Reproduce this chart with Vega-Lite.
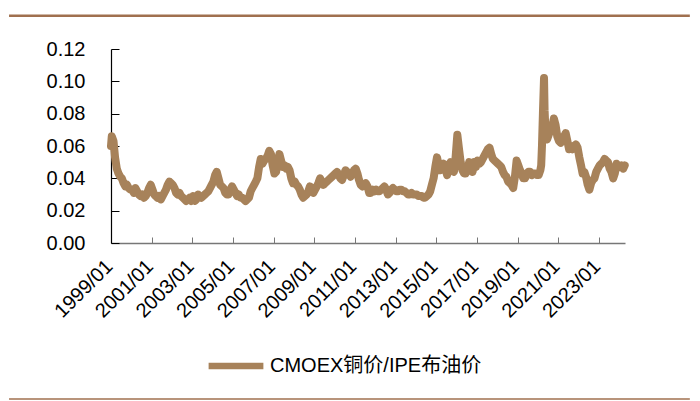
{
 "$schema": "https://vega.github.io/schema/vega-lite/v6.json",
 "width": 514,
 "height": 194,
 "autosize": "none",
 "padding": {"left": 111, "top": 49, "right": 75, "bottom": 158},
 "background": "white",
 "config": {"view": {"stroke": null}, "font": "Liberation Sans", "axis": {"grid": false}, "axisY": {"labelOverlap": false, "tickCount": 7}},
 "datasets": {
  "ratio": [
   {"d":"1999-01-01","v":0.060},{"d":"1999-01-15","v":0.066},{"d":"1999-02-15","v":0.063},{"d":"1999-03-15","v":0.053},{"d":"1999-04-15","v":0.046},{"d":"1999-05-15","v":0.043},{"d":"1999-06-15","v":0.041},{"d":"1999-07-15","v":0.040},{"d":"1999-08-15","v":0.037},{"d":"1999-09-15","v":0.035},{"d":"1999-10-15","v":0.036},{"d":"1999-11-15","v":0.034},{"d":"1999-12-15","v":0.033},
   {"d":"2000-01-15","v":0.033},{"d":"2000-02-15","v":0.031},{"d":"2000-03-15","v":0.034},{"d":"2000-04-15","v":0.032},{"d":"2000-05-15","v":0.030},{"d":"2000-06-15","v":0.029},{"d":"2000-07-15","v":0.030},{"d":"2000-08-15","v":0.028},{"d":"2000-09-15","v":0.029},{"d":"2000-10-15","v":0.031},{"d":"2000-11-15","v":0.034},{"d":"2000-12-15","v":0.036},
   {"d":"2001-01-15","v":0.033},{"d":"2001-02-15","v":0.030},{"d":"2001-03-15","v":0.029},{"d":"2001-04-15","v":0.028},{"d":"2001-05-15","v":0.029},{"d":"2001-06-15","v":0.027},{"d":"2001-07-15","v":0.029},{"d":"2001-08-15","v":0.031},{"d":"2001-09-15","v":0.033},{"d":"2001-10-15","v":0.036},{"d":"2001-11-15","v":0.038},{"d":"2001-12-15","v":0.037},
   {"d":"2002-01-15","v":0.036},{"d":"2002-02-15","v":0.034},{"d":"2002-03-15","v":0.031},{"d":"2002-04-15","v":0.030},{"d":"2002-05-15","v":0.031},{"d":"2002-06-15","v":0.029},{"d":"2002-07-15","v":0.028},{"d":"2002-08-15","v":0.027},{"d":"2002-09-15","v":0.026},{"d":"2002-10-15","v":0.027},{"d":"2002-11-15","v":0.028},{"d":"2002-12-15","v":0.026},
   {"d":"2003-01-15","v":0.029},{"d":"2003-02-15","v":0.026},{"d":"2003-03-15","v":0.027},{"d":"2003-04-15","v":0.030},{"d":"2003-05-15","v":0.029},{"d":"2003-06-15","v":0.028},{"d":"2003-07-15","v":0.029},{"d":"2003-08-15","v":0.030},{"d":"2003-09-15","v":0.031},{"d":"2003-10-15","v":0.032},{"d":"2003-11-15","v":0.034},{"d":"2003-12-15","v":0.036},
   {"d":"2004-01-15","v":0.038},{"d":"2004-02-15","v":0.042},{"d":"2004-03-15","v":0.044},{"d":"2004-04-15","v":0.040},{"d":"2004-05-15","v":0.036},{"d":"2004-06-15","v":0.035},{"d":"2004-07-15","v":0.034},{"d":"2004-08-15","v":0.031},{"d":"2004-09-15","v":0.030},{"d":"2004-10-15","v":0.030},{"d":"2004-11-15","v":0.033},{"d":"2004-12-15","v":0.035},
   {"d":"2005-01-15","v":0.033},{"d":"2005-02-15","v":0.031},{"d":"2005-03-15","v":0.029},{"d":"2005-04-15","v":0.030},{"d":"2005-05-15","v":0.028},{"d":"2005-06-15","v":0.028},{"d":"2005-07-15","v":0.027},{"d":"2005-08-15","v":0.026},{"d":"2005-09-15","v":0.027},{"d":"2005-10-15","v":0.028},{"d":"2005-11-15","v":0.032},{"d":"2005-12-15","v":0.034},
   {"d":"2006-01-15","v":0.036},{"d":"2006-02-15","v":0.038},{"d":"2006-03-15","v":0.040},{"d":"2006-04-15","v":0.047},{"d":"2006-05-15","v":0.052},{"d":"2006-06-15","v":0.049},{"d":"2006-07-15","v":0.051},{"d":"2006-08-15","v":0.052},{"d":"2006-09-15","v":0.054},{"d":"2006-10-15","v":0.057},{"d":"2006-11-15","v":0.055},{"d":"2006-12-15","v":0.048},
   {"d":"2007-01-15","v":0.043},{"d":"2007-02-15","v":0.044},{"d":"2007-03-15","v":0.050},{"d":"2007-04-15","v":0.055},{"d":"2007-05-15","v":0.051},{"d":"2007-06-15","v":0.047},{"d":"2007-07-15","v":0.048},{"d":"2007-08-15","v":0.046},{"d":"2007-09-15","v":0.047},{"d":"2007-10-15","v":0.045},{"d":"2007-11-15","v":0.040},{"d":"2007-12-15","v":0.037},
   {"d":"2008-01-15","v":0.038},{"d":"2008-02-15","v":0.036},{"d":"2008-03-15","v":0.035},{"d":"2008-04-15","v":0.033},{"d":"2008-05-15","v":0.030},{"d":"2008-06-15","v":0.028},{"d":"2008-07-15","v":0.029},{"d":"2008-08-15","v":0.030},{"d":"2008-09-15","v":0.032},{"d":"2008-10-15","v":0.035},{"d":"2008-11-15","v":0.034},{"d":"2008-12-15","v":0.031},
   {"d":"2009-01-15","v":0.033},{"d":"2009-02-15","v":0.035},{"d":"2009-03-15","v":0.037},{"d":"2009-04-15","v":0.040},{"d":"2009-05-15","v":0.038},{"d":"2009-06-15","v":0.036},{"d":"2009-07-15","v":0.037},{"d":"2009-08-15","v":0.038},{"d":"2009-09-15","v":0.039},{"d":"2009-10-15","v":0.040},{"d":"2009-11-15","v":0.041},{"d":"2009-12-15","v":0.042},
   {"d":"2010-01-15","v":0.043},{"d":"2010-02-15","v":0.044},{"d":"2010-03-15","v":0.042},{"d":"2010-04-15","v":0.040},{"d":"2010-05-15","v":0.039},{"d":"2010-06-15","v":0.042},{"d":"2010-07-15","v":0.045},{"d":"2010-08-15","v":0.044},{"d":"2010-09-15","v":0.043},{"d":"2010-10-15","v":0.041},{"d":"2010-11-15","v":0.043},{"d":"2010-12-15","v":0.045},
   {"d":"2011-01-15","v":0.046},{"d":"2011-02-15","v":0.043},{"d":"2011-03-15","v":0.039},{"d":"2011-04-15","v":0.036},{"d":"2011-05-15","v":0.035},{"d":"2011-06-15","v":0.036},{"d":"2011-07-15","v":0.037},{"d":"2011-08-15","v":0.035},{"d":"2011-09-15","v":0.031},{"d":"2011-10-15","v":0.031},{"d":"2011-11-15","v":0.033},{"d":"2011-12-15","v":0.032},
   {"d":"2012-01-15","v":0.033},{"d":"2012-02-15","v":0.032},{"d":"2012-03-15","v":0.032},{"d":"2012-04-15","v":0.033},{"d":"2012-05-15","v":0.034},{"d":"2012-06-15","v":0.035},{"d":"2012-07-15","v":0.033},{"d":"2012-08-15","v":0.030},{"d":"2012-09-15","v":0.031},{"d":"2012-10-15","v":0.033},{"d":"2012-11-15","v":0.034},{"d":"2012-12-15","v":0.033},
   {"d":"2013-01-15","v":0.032},{"d":"2013-02-15","v":0.032},{"d":"2013-03-15","v":0.033},{"d":"2013-04-15","v":0.033},{"d":"2013-05-15","v":0.032},{"d":"2013-06-15","v":0.032},{"d":"2013-07-15","v":0.031},{"d":"2013-08-15","v":0.030},{"d":"2013-09-15","v":0.030},{"d":"2013-10-15","v":0.031},{"d":"2013-11-15","v":0.030},{"d":"2013-12-15","v":0.030},
   {"d":"2014-01-15","v":0.030},{"d":"2014-02-15","v":0.029},{"d":"2014-03-15","v":0.029},{"d":"2014-04-15","v":0.029},{"d":"2014-05-15","v":0.028},{"d":"2014-06-15","v":0.028},{"d":"2014-07-15","v":0.029},{"d":"2014-08-15","v":0.030},{"d":"2014-09-15","v":0.032},{"d":"2014-10-15","v":0.036},{"d":"2014-11-15","v":0.040},{"d":"2014-12-15","v":0.047},
   {"d":"2015-01-15","v":0.053},{"d":"2015-02-15","v":0.048},{"d":"2015-03-15","v":0.045},{"d":"2015-04-15","v":0.047},{"d":"2015-05-15","v":0.049},{"d":"2015-06-15","v":0.046},{"d":"2015-07-15","v":0.042},{"d":"2015-08-15","v":0.047},{"d":"2015-09-15","v":0.050},{"d":"2015-10-15","v":0.047},{"d":"2015-11-15","v":0.044},{"d":"2015-12-15","v":0.053},
   {"d":"2016-01-15","v":0.067},{"d":"2016-02-15","v":0.058},{"d":"2016-03-15","v":0.050},{"d":"2016-04-15","v":0.045},{"d":"2016-05-15","v":0.043},{"d":"2016-06-15","v":0.043},{"d":"2016-07-15","v":0.046},{"d":"2016-08-15","v":0.050},{"d":"2016-09-15","v":0.048},{"d":"2016-10-15","v":0.044},{"d":"2016-11-15","v":0.050},{"d":"2016-12-15","v":0.047},
   {"d":"2017-01-15","v":0.051},{"d":"2017-02-15","v":0.049},{"d":"2017-03-15","v":0.050},{"d":"2017-04-15","v":0.052},{"d":"2017-05-15","v":0.054},{"d":"2017-06-15","v":0.056},{"d":"2017-07-15","v":0.058},{"d":"2017-08-15","v":0.059},{"d":"2017-09-15","v":0.055},{"d":"2017-10-15","v":0.052},{"d":"2017-11-15","v":0.051},{"d":"2017-12-15","v":0.050},
   {"d":"2018-01-15","v":0.049},{"d":"2018-02-15","v":0.048},{"d":"2018-03-15","v":0.047},{"d":"2018-04-15","v":0.044},{"d":"2018-05-15","v":0.042},{"d":"2018-06-15","v":0.041},{"d":"2018-07-15","v":0.038},{"d":"2018-08-15","v":0.037},{"d":"2018-09-15","v":0.036},{"d":"2018-10-15","v":0.034},{"d":"2018-11-15","v":0.041},{"d":"2018-12-15","v":0.051},
   {"d":"2019-01-15","v":0.048},{"d":"2019-02-15","v":0.045},{"d":"2019-03-15","v":0.043},{"d":"2019-04-15","v":0.040},{"d":"2019-05-15","v":0.040},{"d":"2019-06-15","v":0.043},{"d":"2019-07-15","v":0.044},{"d":"2019-08-15","v":0.044},{"d":"2019-09-15","v":0.042},{"d":"2019-10-15","v":0.043},{"d":"2019-11-15","v":0.043},{"d":"2019-12-15","v":0.042},
   {"d":"2020-01-15","v":0.042},{"d":"2020-02-15","v":0.045},{"d":"2020-03-01","v":0.048},{"d":"2020-03-15","v":0.060},{"d":"2020-04-01","v":0.080},{"d":"2020-04-21","v":0.102},{"d":"2020-05-01","v":0.082},{"d":"2020-05-15","v":0.071},{"d":"2020-06-15","v":0.064},{"d":"2020-07-15","v":0.067},{"d":"2020-08-15","v":0.070},{"d":"2020-09-15","v":0.072},{"d":"2020-10-15","v":0.077},{"d":"2020-11-15","v":0.073},{"d":"2020-12-15","v":0.066},
   {"d":"2021-01-15","v":0.063},{"d":"2021-02-15","v":0.062},{"d":"2021-03-15","v":0.064},{"d":"2021-04-15","v":0.066},{"d":"2021-05-15","v":0.068},{"d":"2021-06-15","v":0.063},{"d":"2021-07-15","v":0.058},{"d":"2021-08-15","v":0.060},{"d":"2021-09-15","v":0.058},{"d":"2021-10-15","v":0.060},{"d":"2021-11-15","v":0.061},{"d":"2021-12-15","v":0.059},
   {"d":"2022-01-15","v":0.053},{"d":"2022-02-15","v":0.048},{"d":"2022-03-15","v":0.043},{"d":"2022-04-15","v":0.044},{"d":"2022-05-15","v":0.041},{"d":"2022-06-15","v":0.036},{"d":"2022-07-15","v":0.033},{"d":"2022-08-15","v":0.037},{"d":"2022-09-15","v":0.039},{"d":"2022-10-15","v":0.040},{"d":"2022-11-15","v":0.044},{"d":"2022-12-15","v":0.046},
   {"d":"2023-01-15","v":0.048},{"d":"2023-02-15","v":0.049},{"d":"2023-03-15","v":0.050},{"d":"2023-04-15","v":0.052},{"d":"2023-05-15","v":0.051},{"d":"2023-06-15","v":0.050},{"d":"2023-07-15","v":0.046},{"d":"2023-08-15","v":0.044},{"d":"2023-09-15","v":0.040},{"d":"2023-10-15","v":0.043},{"d":"2023-11-15","v":0.049},{"d":"2023-12-15","v":0.048},
   {"d":"2024-01-15","v":0.047},{"d":"2024-02-15","v":0.048},{"d":"2024-03-15","v":0.046},{"d":"2024-04-10","v":0.048}
  ]
 },
 "layer": [
  {
   "data": {"name": "ratio"},
   "mark": {"type": "line", "strokeWidth": 8, "strokeJoin": "round", "strokeCap": "round"},
   "encoding": {
    "x": {
     "field": "d", "type": "temporal",
     "scale": {"type": "utc", "domain": [{"year": 1999, "month": 1, "date": 1, "utc": true}, {"year": 2024, "month": 4, "date": 15, "utc": true}]},
     "axis": {
      "title": null,
      "values": [{"year":1999,"month":1,"date":1,"utc":true},{"year":2001,"month":1,"date":1,"utc":true},{"year":2003,"month":1,"date":1,"utc":true},{"year":2005,"month":1,"date":1,"utc":true},{"year":2007,"month":1,"date":1,"utc":true},{"year":2009,"month":1,"date":1,"utc":true},{"year":2011,"month":1,"date":1,"utc":true},{"year":2013,"month":1,"date":1,"utc":true},{"year":2015,"month":1,"date":1,"utc":true},{"year":2017,"month":1,"date":1,"utc":true},{"year":2019,"month":1,"date":1,"utc":true},{"year":2021,"month":1,"date":1,"utc":true},{"year":2023,"month":1,"date":1,"utc":true}],
      "format": "%Y/%m",
      "labelAngle": -45,
      "labelAlign": "right",
      "labelBaseline": "middle",
      "labelFontSize": 20,
      "labelColor": "#000000",
      "labelOverlap": false,
      "labelFlush": false,
      "labelPadding": 26,
      "labelOffset": -2,
      "tickSize": -6,
      "tickColor": "#777777",
      "domainColor": "#777777",
      "domainWidth": 1.5
     }
    },
    "y": {
     "field": "v", "type": "quantitative",
     "scale": {"domain": [0, 0.12], "nice": false, "zero": true},
     "axis": {
      "title": null,
      "tickCount": 7,
      "values": [0, 0.02, 0.04, 0.06, 0.08, 0.1, 0.12],
      "format": ".2f",
      "labelFontSize": 20,
      "labelColor": "#000000",
      "labelOverlap": false,
      "labelPadding": 34,
      "tickSize": -8,
      "tickColor": "#000000",
      "domainColor": "#000000",
      "domainWidth": 1.2
     }
    },
    "color": {
     "datum": "CMOEX铜价/IPE布油价", "type": "nominal",
     "scale": {"range": ["#a7825a"]},
     "legend": {
      "title": null,
      "orient": "none",
      "legendX": 94,
      "legendY": 286,
      "padding": 0,
      "symbolType": "stroke",
      "symbolStrokeWidth": 6.5,
      "symbolSize": 3000,
      "labelFontSize": 20,
      "labelFont": "Liberation Sans, Noto Sans CJK SC",
      "labelColor": "#000000",
      "labelLimit": 400,
      "labelOffset": 3
     }
    }
   }
  },
  {
   "data": {"values": [{}]},
   "mark": {"type": "rule", "clip": false, "color": "#a0704f", "strokeWidth": 2.5},
   "encoding": {
    "x": {"datum": {"year": 1993, "month": 12, "date": 26, "utc": true}, "type": "temporal"},
    "x2": {"datum": {"year": 2027, "month": 6, "date": 24, "utc": true}},
    "y": {"datum": 0.1405, "type": "quantitative"}
   }
  },
  {
   "data": {"values": [{}]},
   "mark": {"type": "rule", "clip": false, "color": "#a0704f", "strokeWidth": 1.5},
   "encoding": {
    "x": {"datum": {"year": 1993, "month": 12, "date": 26, "utc": true}, "type": "temporal"},
    "x2": {"datum": {"year": 2027, "month": 6, "date": 24, "utc": true}},
    "y": {"datum": -0.0965, "type": "quantitative"}
   }
  }
 ]
}
